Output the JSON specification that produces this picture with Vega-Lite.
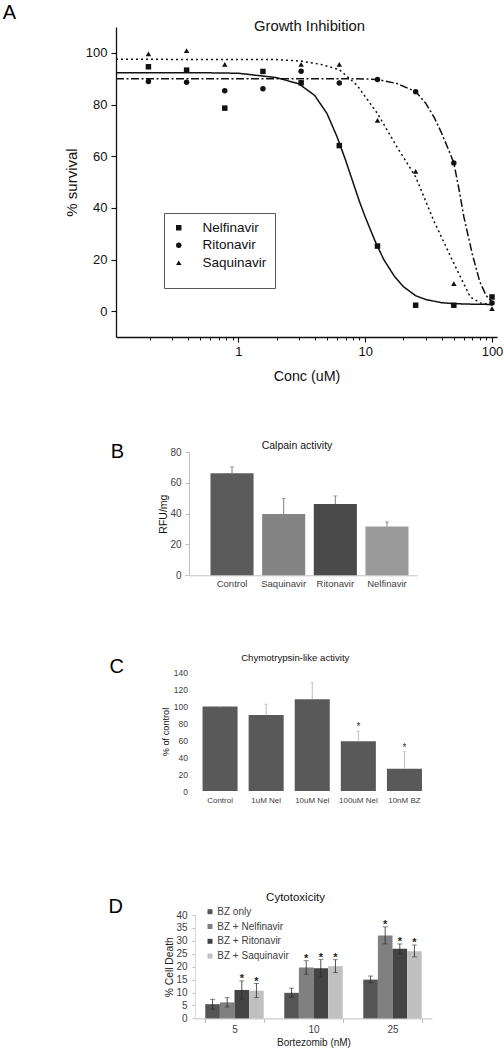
{
  "$schema": "https://vega.github.io/schema/vega-lite/v6.json",
  "padding": {"left": 0, "top": 3, "right": 0, "bottom": 0},
  "background": "white",
  "config": {
    "view": {"stroke": null},
    "font": "Liberation Sans",
    "title": {"fontWeight": "normal", "color": "#111"},
    "axis": {"grid": false, "titleFontWeight": "normal", "labelOverlap": false},
    "legend": {"titleFontWeight": "normal"}
  },
  "datasets": {
    "ptsA": [
      {"drug": "Nelfinavir", "conc": 0.1953, "survival": 94.6},
      {"drug": "Nelfinavir", "conc": 0.3906, "survival": 93.3},
      {"drug": "Nelfinavir", "conc": 0.7813, "survival": 78.6},
      {"drug": "Nelfinavir", "conc": 1.5625, "survival": 92.8},
      {"drug": "Nelfinavir", "conc": 3.125, "survival": 88.4},
      {"drug": "Nelfinavir", "conc": 6.25, "survival": 64.1},
      {"drug": "Nelfinavir", "conc": 12.5, "survival": 25.2},
      {"drug": "Nelfinavir", "conc": 25, "survival": 2.3},
      {"drug": "Nelfinavir", "conc": 50, "survival": 2.3},
      {"drug": "Nelfinavir", "conc": 100, "survival": 5.5},
      {"drug": "Ritonavir", "conc": 0.1953, "survival": 88.9},
      {"drug": "Ritonavir", "conc": 0.3906, "survival": 88.6},
      {"drug": "Ritonavir", "conc": 0.7813, "survival": 85.3},
      {"drug": "Ritonavir", "conc": 1.5625, "survival": 86.1},
      {"drug": "Ritonavir", "conc": 3.125, "survival": 92.9},
      {"drug": "Ritonavir", "conc": 6.25, "survival": 88.3},
      {"drug": "Ritonavir", "conc": 12.5, "survival": 89.7},
      {"drug": "Ritonavir", "conc": 25, "survival": 84.9},
      {"drug": "Ritonavir", "conc": 50, "survival": 57.4},
      {"drug": "Ritonavir", "conc": 100, "survival": 3.2},
      {"drug": "Saquinavir", "conc": 0.1953, "survival": 99.6},
      {"drug": "Saquinavir", "conc": 0.3906, "survival": 100.9},
      {"drug": "Saquinavir", "conc": 0.7813, "survival": 95.5},
      {"drug": "Saquinavir", "conc": 3.125, "survival": 95.5},
      {"drug": "Saquinavir", "conc": 6.25, "survival": 95.5},
      {"drug": "Saquinavir", "conc": 12.5, "survival": 73.9},
      {"drug": "Saquinavir", "conc": 25, "survival": 54.1},
      {"drug": "Saquinavir", "conc": 50, "survival": 10.7},
      {"drug": "Saquinavir", "conc": 100, "survival": 1.0}
    ],
    "fitA": [
      {"curve": "Nelfinavir fit", "conc": 0.1084, "survival": 92.3},
      {"curve": "Nelfinavir fit", "conc": 0.5, "survival": 92.3},
      {"curve": "Nelfinavir fit", "conc": 1, "survival": 92.1},
      {"curve": "Nelfinavir fit", "conc": 2, "survival": 90.4},
      {"curve": "Nelfinavir fit", "conc": 3, "survival": 88.0},
      {"curve": "Nelfinavir fit", "conc": 4, "survival": 83.5},
      {"curve": "Nelfinavir fit", "conc": 5, "survival": 76.5},
      {"curve": "Nelfinavir fit", "conc": 6, "survival": 67.5},
      {"curve": "Nelfinavir fit", "conc": 7, "survival": 58.5},
      {"curve": "Nelfinavir fit", "conc": 8, "survival": 50.0},
      {"curve": "Nelfinavir fit", "conc": 9, "survival": 42.5},
      {"curve": "Nelfinavir fit", "conc": 10, "survival": 36.5},
      {"curve": "Nelfinavir fit", "conc": 12, "survival": 27.0},
      {"curve": "Nelfinavir fit", "conc": 14, "survival": 20.0},
      {"curve": "Nelfinavir fit", "conc": 17, "survival": 13.5},
      {"curve": "Nelfinavir fit", "conc": 20, "survival": 9.5},
      {"curve": "Nelfinavir fit", "conc": 25, "survival": 6.0},
      {"curve": "Nelfinavir fit", "conc": 30, "survival": 4.5},
      {"curve": "Nelfinavir fit", "conc": 40, "survival": 3.3},
      {"curve": "Nelfinavir fit", "conc": 50, "survival": 2.9},
      {"curve": "Nelfinavir fit", "conc": 70, "survival": 2.7},
      {"curve": "Nelfinavir fit", "conc": 100, "survival": 2.6},
      {"curve": "Ritonavir fit", "conc": 0.1084, "survival": 90.0},
      {"curve": "Ritonavir fit", "conc": 5, "survival": 90.0},
      {"curve": "Ritonavir fit", "conc": 10, "survival": 89.9},
      {"curve": "Ritonavir fit", "conc": 12.5, "survival": 89.7},
      {"curve": "Ritonavir fit", "conc": 17.8, "survival": 88.1},
      {"curve": "Ritonavir fit", "conc": 25, "survival": 85.0},
      {"curve": "Ritonavir fit", "conc": 30, "survival": 80.5},
      {"curve": "Ritonavir fit", "conc": 35, "survival": 75.0},
      {"curve": "Ritonavir fit", "conc": 40, "survival": 69.0},
      {"curve": "Ritonavir fit", "conc": 45, "survival": 63.0},
      {"curve": "Ritonavir fit", "conc": 50, "survival": 57.4},
      {"curve": "Ritonavir fit", "conc": 55, "survival": 47.0},
      {"curve": "Ritonavir fit", "conc": 60, "survival": 36.5},
      {"curve": "Ritonavir fit", "conc": 70, "survival": 22.0},
      {"curve": "Ritonavir fit", "conc": 80, "survival": 11.5},
      {"curve": "Ritonavir fit", "conc": 90, "survival": 6.0},
      {"curve": "Ritonavir fit", "conc": 100, "survival": 3.5},
      {"curve": "Saquinavir fit", "conc": 0.1084, "survival": 97.5},
      {"curve": "Saquinavir fit", "conc": 2, "survival": 97.4},
      {"curve": "Saquinavir fit", "conc": 3.125, "survival": 96.8},
      {"curve": "Saquinavir fit", "conc": 4.5, "survival": 95.5},
      {"curve": "Saquinavir fit", "conc": 6.25, "survival": 93.5},
      {"curve": "Saquinavir fit", "conc": 8.6, "survival": 87.5},
      {"curve": "Saquinavir fit", "conc": 12.5, "survival": 76.5},
      {"curve": "Saquinavir fit", "conc": 17.8, "survival": 63.6},
      {"curve": "Saquinavir fit", "conc": 25, "survival": 52.0},
      {"curve": "Saquinavir fit", "conc": 34.6, "survival": 35.2},
      {"curve": "Saquinavir fit", "conc": 50, "survival": 18.5},
      {"curve": "Saquinavir fit", "conc": 67.4, "survival": 5.5},
      {"curve": "Saquinavir fit", "conc": 80.9, "survival": 3.2},
      {"curve": "Saquinavir fit", "conc": 100, "survival": 2.5}
    ],
    "calpain": [
      {"cat": "Control", "value": 66.2, "hi": 70.3},
      {"cat": "Saquinavir", "value": 39.8, "hi": 49.8},
      {"cat": "Ritonavir", "value": 46.3, "hi": 51.5},
      {"cat": "Nelfinavir", "value": 31.6, "hi": 34.6}
    ],
    "chymo": [
      {"cat": "Control", "value": 99.3, "hi": 99.3, "sig": ""},
      {"cat": "1uM Nel", "value": 89.4, "hi": 102.0, "sig": ""},
      {"cat": "10uM Nel", "value": 107.9, "hi": 127.5, "sig": ""},
      {"cat": "100uM Nel", "value": 58.5, "hi": 70.6, "sig": "*"},
      {"cat": "10nM BZ", "value": 26.3, "hi": 46.3, "sig": "*"}
    ],
    "cyto": [
      {"bz": "5", "series": "BZ only", "value": 5.5, "lo": 3.6, "hi": 7.4, "sig": ""},
      {"bz": "5", "series": "BZ + Nelfinavir", "value": 6.2, "lo": 4.4, "hi": 8.0, "sig": ""},
      {"bz": "5", "series": "BZ + Ritonavir", "value": 11.0, "lo": 7.5, "hi": 14.5, "sig": "*"},
      {"bz": "5", "series": "BZ + Saquinavir", "value": 10.7, "lo": 8.0, "hi": 13.5, "sig": "*"},
      {"bz": "10", "series": "BZ only", "value": 9.9, "lo": 8.2, "hi": 11.7, "sig": ""},
      {"bz": "10", "series": "BZ + Nelfinavir", "value": 19.7, "lo": 17.1, "hi": 22.3, "sig": "*"},
      {"bz": "10", "series": "BZ + Ritonavir", "value": 19.4, "lo": 16.0, "hi": 22.7, "sig": "*"},
      {"bz": "10", "series": "BZ + Saquinavir", "value": 20.2, "lo": 17.7, "hi": 22.7, "sig": "*"},
      {"bz": "25", "series": "BZ only", "value": 15.0, "lo": 13.8, "hi": 16.4, "sig": ""},
      {"bz": "25", "series": "BZ + Nelfinavir", "value": 32.1, "lo": 28.8, "hi": 35.4, "sig": "*"},
      {"bz": "25", "series": "BZ + Ritonavir", "value": 26.9, "lo": 25.0, "hi": 28.8, "sig": "*"},
      {"bz": "25", "series": "BZ + Saquinavir", "value": 26.0, "lo": 23.8, "hi": 28.4, "sig": "*"}
    ]
  },
  "spacing": 57,
  "resolve": {"scale": {"color": "independent", "shape": "independent", "strokeDash": "independent"}, "legend": {"color": "independent", "shape": "independent", "strokeDash": "independent"}},
  "vconcat": [
    {
      "bounds": "flush",
      "spacing": 100,
      "resolve": {"scale": {"color": "independent", "shape": "independent", "strokeDash": "independent"}, "legend": {"color": "independent", "shape": "independent", "strokeDash": "independent"}},
      "hconcat": [
        {
          "width": 16, "height": 310,
          "data": {"values": []},
          "mark": "point",
          "title": {"text": "A", "anchor": "end", "frame": "group", "fontSize": 20, "baseline": "alphabetic", "offset": -12, "color": "#000"}
        },
        {
          "width": 381, "height": 310,
          "title": {"text": "Growth Inhibition", "fontSize": 14.8, "baseline": "middle", "offset": -14.8, "dx": 3, "color": "#111"},
          "layer": [
            {
              "data": {"name": "fitA"},
              "mark": {"type": "line", "color": "#111", "strokeWidth": 1.5},
              "encoding": {
                "x": {
                  "field": "conc", "type": "quantitative",
                  "scale": {"type": "log", "domain": [0.1084, 109.5], "nice": false},
                  "axis": {
                    "values": [0.2, 0.3, 0.4, 0.5, 0.6, 0.7, 0.8, 0.9, 1, 2, 3, 4, 5, 6, 7, 8, 9, 10, 20, 30, 40, 50, 60, 70, 80, 90, 100],
                    "labelExpr": "(datum.value == 1 || datum.value == 10 || datum.value == 100) ? format(datum.value, 'd') : ''",
                    "tickSize": {"condition": {"test": "datum.value == 1 || datum.value == 10 || datum.value == 100", "value": 5}, "value": 3},
                    "labelFlush": false,
                    "domainColor": "#111", "domainWidth": 1.3, "tickColor": "#111", "tickWidth": 1.1,
                    "labelFontSize": 13, "labelColor": "#111", "labelPadding": 3,
                    "title": "Conc (uM)", "titleFontSize": 14.3, "titleColor": "#111", "titlePadding": 11.5
                  }
                },
                "y": {
                  "field": "survival", "type": "quantitative",
                  "scale": {"domain": [-10, 110], "nice": false, "zero": false},
                  "axis": {
                    "values": [0, 10, 20, 30, 40, 50, 60, 70, 80, 90, 100],
                    "labelExpr": "datum.value % 20 === 0 ? datum.label : ''",
                    "tickSize": {"condition": {"test": "datum.value % 20 === 0", "value": 5}, "value": 3},
                    "domainColor": "#111", "domainWidth": 1.3, "tickColor": "#111", "tickWidth": 1.1,
                    "labelFontSize": 13, "labelColor": "#111", "labelPadding": 4,
                    "title": "% survival", "titleFontSize": 15, "titleColor": "#111", "titlePadding": 6
                  }
                },
                "strokeDash": {
                  "field": "curve", "type": "nominal",
                  "scale": {"domain": ["Nelfinavir fit", "Ritonavir fit", "Saquinavir fit"], "range": [[1, 0], [8, 2.5, 2, 2.5], [2, 3]]},
                  "legend": null
                }
              }
            },
            {
              "data": {"name": "ptsA"},
              "mark": {"type": "point", "filled": true, "color": "#111", "opacity": 1, "size": 30},
              "encoding": {
                "x": {"field": "conc", "type": "quantitative"},
                "y": {"field": "survival", "type": "quantitative"},
                "shape": {
                  "field": "drug", "type": "nominal",
                  "scale": {"domain": ["Nelfinavir", "Ritonavir", "Saquinavir"], "range": ["square", "circle", "triangle-up"]},
                  "legend": {
                    "orient": "none", "legendX": 48, "legendY": 186,
                    "title": " ", "titleOrient": "bottom", "titleFontSize": 11, "titlePadding": 0,
                    "strokeColor": "#555", "padding": 8, "labelOffset": 17,
                    "labelFontSize": 13.5, "labelColor": "#111", "rowPadding": 2.5,
                    "symbolFillColor": "#111", "symbolStrokeColor": "#111", "symbolSize": 30
                  }
                }
              }
            }
          ]
        }
      ]
    },
    {
      "spacing": 64,
      "resolve": {"scale": {"color": "independent", "shape": "independent", "strokeDash": "independent"}, "legend": {"color": "independent", "shape": "independent", "strokeDash": "independent"}},
      "vconcat": [
        {
          "bounds": "flush",
          "spacing": 65,
          "resolve": {"scale": {"color": "independent"}, "legend": {"color": "independent"}},
          "hconcat": [
            {
              "width": 124, "height": 123,
              "data": {"values": []},
              "mark": "point",
              "title": {"text": "B", "anchor": "end", "frame": "group", "fontSize": 20, "baseline": "alphabetic", "offset": -25.6, "color": "#000"}
            },
            {
              "width": 228, "height": 123.3,
              "title": {"text": "Calpain activity", "fontSize": 10.5, "baseline": "middle", "offset": -9.5, "dx": -6, "color": "#111"},
              "data": {"name": "calpain"},
              "encoding": {
                "x": {
                  "field": "cat", "type": "nominal", "sort": null,
                  "scale": {"domain": ["Control", "Saquinavir", "Ritonavir", "Nelfinavir"], "paddingInner": 0.166, "paddingOuter": 0.29, "align": 0.717},
                  "axis": {"title": null, "labelAngle": 0, "ticks": false, "domainColor": "#bfbfbf", "labelFontSize": 9.5, "labelColor": "#404040", "labelPadding": 3}
                }
              },
              "layer": [
                {
                  "mark": {"type": "bar"},
                  "encoding": {
                    "y": {
                      "field": "value", "type": "quantitative", "title": "RFU/mg",
                      "scale": {"domain": [0, 80], "nice": false},
                      "axis": {"values": [0, 20, 40, 60, 80], "tickSize": 4, "tickColor": "#bfbfbf", "domainColor": "#bfbfbf", "labelFontSize": 10, "labelColor": "#404040", "labelPadding": 4, "titleFontSize": 10.5, "titleColor": "#111", "titlePadding": 1}
                    },
                    "color": {
                      "field": "cat", "type": "nominal",
                      "scale": {"domain": ["Control", "Saquinavir", "Ritonavir", "Nelfinavir"], "range": ["#5b5b5b", "#848484", "#4a4a4a", "#9a9a9a"]},
                      "legend": null
                    }
                  }
                },
                {
                  "mark": {"type": "rule", "color": "#808080", "strokeWidth": 1},
                  "encoding": {
                    "y": {"field": "value", "type": "quantitative", "title": "RFU/mg",
                      "axis": {"values": [0, 20, 40, 60, 80], "tickSize": 4, "tickColor": "#bfbfbf", "domainColor": "#bfbfbf", "labelFontSize": 10, "labelColor": "#404040", "labelPadding": 4, "titleFontSize": 10.5, "titleColor": "#111", "titlePadding": 1}},
                    "y2": {"field": "hi"}
                  }
                },
                {
                  "mark": {"type": "tick", "color": "#808080", "size": 4, "thickness": 1},
                  "encoding": {
                    "y": {"field": "hi", "type": "quantitative", "title": "RFU/mg",
                      "axis": {"values": [0, 20, 40, 60, 80], "tickSize": 4, "tickColor": "#bfbfbf", "domainColor": "#bfbfbf", "labelFontSize": 10, "labelColor": "#404040", "labelPadding": 4, "titleFontSize": 10.5, "titleColor": "#111", "titlePadding": 1}}
                  }
                }
              ]
            }
          ]
        },
        {
          "spacing": 87,
          "resolve": {"scale": {"color": "independent"}, "legend": {"color": "independent"}},
          "vconcat": [
            {
              "bounds": "flush",
              "spacing": 73,
              "hconcat": [
                {
                  "width": 124, "height": 119,
                  "data": {"values": []},
                  "mark": "point",
                  "title": {"text": "C", "anchor": "end", "frame": "group", "fontSize": 20, "baseline": "alphabetic", "offset": -21.3, "color": "#000"}
                },
                {
                  "width": 230.5, "height": 119,
                  "title": {"text": "Chymotrypsin-like activity", "fontSize": 9.6, "baseline": "middle", "offset": 0.5, "dx": -17, "color": "#111"},
                  "data": {"name": "chymo"},
                  "encoding": {
                    "x": {
                      "field": "cat", "type": "nominal", "sort": null,
                      "scale": {"domain": ["Control", "1uM Nel", "10uM Nel", "100uM Nel", "10nM BZ"], "paddingInner": 0.24, "paddingOuter": 0.12},
                      "axis": {"title": null, "labelAngle": 0, "ticks": false, "domain": false, "labelFontSize": 8, "labelColor": "#404040", "labelPadding": 5}
                    }
                  },
                  "layer": [
                    {
                      "mark": {"type": "bar", "color": "#595959"},
                      "encoding": {
                        "y": {
                          "field": "value", "type": "quantitative", "title": "% of control",
                          "scale": {"domain": [0, 140], "nice": false},
                          "axis": {"values": [0, 20, 40, 60, 80, 100, 120, 140], "ticks": false, "domain": false, "labelFontSize": 8.5, "labelColor": "#404040", "labelPadding": 9.5, "titleFontSize": 9.2, "titleColor": "#111", "titlePadding": 3}
                        }
                      }
                    },
                    {
                      "mark": {"type": "rule", "color": "#bdbdbd", "strokeWidth": 1},
                      "encoding": {
                        "y": {"field": "value", "type": "quantitative", "title": "% of control",
                          "axis": {"values": [0, 20, 40, 60, 80, 100, 120, 140], "ticks": false, "domain": false, "labelFontSize": 8.5, "labelColor": "#404040", "labelPadding": 9.5, "titleFontSize": 9.2, "titleColor": "#111", "titlePadding": 3}},
                        "y2": {"field": "hi"}
                      }
                    },
                    {
                      "mark": {"type": "tick", "color": "#bdbdbd", "size": 4, "thickness": 1},
                      "encoding": {
                        "y": {"field": "hi", "type": "quantitative", "title": "% of control",
                          "axis": {"values": [0, 20, 40, 60, 80, 100, 120, 140], "ticks": false, "domain": false, "labelFontSize": 8.5, "labelColor": "#404040", "labelPadding": 9.5, "titleFontSize": 9.2, "titleColor": "#111", "titlePadding": 3}}
                      }
                    },
                    {
                      "mark": {"type": "text", "baseline": "alphabetic", "fontSize": 10, "color": "#333", "dy": -1},
                      "encoding": {
                        "y": {"field": "hi", "type": "quantitative", "title": "% of control",
                          "axis": {"values": [0, 20, 40, 60, 80, 100, 120, 140], "ticks": false, "domain": false, "labelFontSize": 8.5, "labelColor": "#404040", "labelPadding": 9.5, "titleFontSize": 9.2, "titleColor": "#111", "titlePadding": 3}},
                        "text": {"field": "sig"}
                      }
                    }
                  ]
                }
              ]
            },
            {
              "bounds": "flush",
              "spacing": 72,
              "resolve": {"scale": {"color": "independent"}, "legend": {"color": "independent"}},
              "hconcat": [
                {
                  "width": 123, "height": 103,
                  "data": {"values": []},
                  "mark": "point",
                  "title": {"text": "D", "anchor": "end", "frame": "group", "fontSize": 20, "baseline": "alphabetic", "offset": -18.4, "color": "#000"}
                },
                {
                  "width": 237, "height": 103.4,
                  "title": {"text": "Cytotoxicity", "fontSize": 11.5, "baseline": "middle", "offset": -2.7, "dx": -18, "color": "#111"},
                  "data": {"name": "cyto"},
                  "encoding": {
                    "x": {
                      "field": "bz", "type": "nominal", "sort": null,
                      "scale": {"domain": ["5", "10", "25"], "paddingInner": 0.26, "paddingOuter": 0.13},
                      "axis": {"title": "Bortezomib (nM)", "labelAngle": 0, "tickBand": "extent", "tickSize": 4, "tickColor": "#bfbfbf", "domainColor": "#bfbfbf", "labelFontSize": 10, "labelColor": "#404040", "labelPadding": 2, "titleFontSize": 10, "titleColor": "#222", "titlePadding": 3}
                    },
                    "xOffset": {"field": "series", "type": "nominal", "scale": {"domain": ["BZ only", "BZ + Nelfinavir", "BZ + Ritonavir", "BZ + Saquinavir"]}}
                  },
                  "layer": [
                    {
                      "mark": {"type": "bar"},
                      "encoding": {
                        "y": {
                          "field": "value", "type": "quantitative", "title": "% Cell Death",
                          "scale": {"domain": [0, 40], "nice": false},
                          "axis": {"values": [0, 5, 10, 15, 20, 25, 30, 35, 40], "tickSize": 3, "tickColor": "#bfbfbf", "domainColor": "#d9d9d9", "labelFontSize": 10, "labelColor": "#404040", "labelPadding": 5, "titleFontSize": 10.3, "titleColor": "#222", "titlePadding": 1.5}
                        },
                        "color": {
                          "field": "series", "type": "nominal",
                          "scale": {"domain": ["BZ only", "BZ + Nelfinavir", "BZ + Ritonavir", "BZ + Saquinavir"], "range": ["#555555", "#808080", "#444444", "#c0c0c0"]},
                          "legend": {"orient": "none", "legendX": 10, "legendY": -8.3, "title": null, "symbolType": "square", "symbolSize": 25, "labelFontSize": 10, "labelColor": "#404040", "labelOffset": 2.3, "rowPadding": 4.8, "padding": 0}
                        }
                      }
                    },
                    {
                      "mark": {"type": "rule", "color": "#262626", "strokeWidth": 0.8},
                      "encoding": {
                        "y": {"field": "lo", "type": "quantitative", "title": "% Cell Death",
                          "axis": {"values": [0, 5, 10, 15, 20, 25, 30, 35, 40], "tickSize": 3, "tickColor": "#bfbfbf", "domainColor": "#d9d9d9", "labelFontSize": 10, "labelColor": "#404040", "labelPadding": 5, "titleFontSize": 10.3, "titleColor": "#222", "titlePadding": 1.5}},
                        "y2": {"field": "hi"}
                      }
                    },
                    {
                      "mark": {"type": "tick", "color": "#262626", "size": 5, "thickness": 0.8},
                      "encoding": {
                        "y": {"field": "lo", "type": "quantitative", "title": "% Cell Death",
                          "axis": {"values": [0, 5, 10, 15, 20, 25, 30, 35, 40], "tickSize": 3, "tickColor": "#bfbfbf", "domainColor": "#d9d9d9", "labelFontSize": 10, "labelColor": "#404040", "labelPadding": 5, "titleFontSize": 10.3, "titleColor": "#222", "titlePadding": 1.5}}
                      }
                    },
                    {
                      "mark": {"type": "tick", "color": "#262626", "size": 5, "thickness": 0.8},
                      "encoding": {
                        "y": {"field": "hi", "type": "quantitative", "title": "% Cell Death",
                          "axis": {"values": [0, 5, 10, 15, 20, 25, 30, 35, 40], "tickSize": 3, "tickColor": "#bfbfbf", "domainColor": "#d9d9d9", "labelFontSize": 10, "labelColor": "#404040", "labelPadding": 5, "titleFontSize": 10.3, "titleColor": "#222", "titlePadding": 1.5}}
                      }
                    },
                    {
                      "mark": {"type": "text", "baseline": "alphabetic", "fontSize": 11, "fontWeight": "bold", "color": "#222", "dy": 1},
                      "encoding": {
                        "y": {"field": "hi", "type": "quantitative", "title": "% Cell Death",
                          "axis": {"values": [0, 5, 10, 15, 20, 25, 30, 35, 40], "tickSize": 3, "tickColor": "#bfbfbf", "domainColor": "#d9d9d9", "labelFontSize": 10, "labelColor": "#404040", "labelPadding": 5, "titleFontSize": 10.3, "titleColor": "#222", "titlePadding": 1.5}},
                        "text": {"field": "sig"}
                      }
                    }
                  ]
                }
              ]
            }
          ]
        }
      ]
    }
  ]
}
